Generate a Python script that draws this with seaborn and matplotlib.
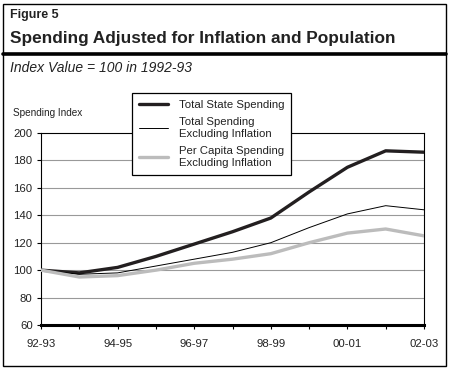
import matplotlib
matplotlib.use("Agg")
import matplotlib.pyplot as plt
import pandas as pd
import seaborn as sns
from matplotlib.patches import Rectangle
from matplotlib.lines import Line2D

years = ["92-93", "93-94", "94-95", "95-96", "96-97", "97-98",
         "98-99", "99-00", "00-01", "01-02", "02-03"]
total_state = [100, 98, 102, 110, 119, 128, 138, 157, 175, 187, 186]
total_excl_infl = [100, 97, 98, 103, 108, 113, 120, 131, 141, 147, 144]
per_capita_excl = [100, 95, 96, 100, 105, 108, 112, 120, 127, 130, 125]

names = ["Total State Spending",
         "Total Spending\nExcluding Inflation",
         "Per Capita Spending\nExcluding Inflation"]

df = pd.DataFrame({
    "pos": list(range(len(years))) * 3,
    "value": total_state + total_excl_infl + per_capita_excl,
    "series": [names[0]] * len(years) + [names[1]] * len(years) + [names[2]] * len(years),
})

sns.set_style("white")
plt.rcParams["font.family"] = ["Liberation Sans", "DejaVu Sans"]

W, H = 449, 370
fig = plt.figure(figsize=(W / 100, H / 100), dpi=100)

def fx(px):
    return px / W

def fy(py):
    return 1 - py / H

ax = fig.add_axes([fx(41), fy(325), fx(424) - fx(41), fy(133) - fy(325)])

palette = {names[0]: "#231f20", names[1]: "#000000", names[2]: "#bcbcbc"}
sizes = {names[0]: 2.4, names[1]: 0.7, names[2]: 2.4}
sns.lineplot(data=df, x="pos", y="value", hue="series", size="series",
             palette=palette, sizes=sizes, hue_order=names, size_order=names,
             ax=ax, legend=False, zorder=3)

ax.set_xlim(0, len(years) - 1)
ax.set_ylim(60, 200)
ax.set_yticks(range(60, 201, 20))
ax.set_xticks(range(len(years)))
ax.set_xticklabels([y if i % 2 == 0 else "" for i, y in enumerate(years)])
ax.set_xlabel("")
ax.set_ylabel("")
for y in range(80, 200, 20):
    ax.axhline(y, color="#999999", lw=0.8, zorder=1)
for s in ["left", "right", "top"]:
    ax.spines[s].set_color("black")
    ax.spines[s].set_linewidth(0.8)
ax.spines["bottom"].set_color("black")
ax.spines["bottom"].set_linewidth(2.2)
ax.tick_params(axis="both", which="both", direction="out", length=3, width=0.8,
               color="black", labelsize=8.2, labelcolor="#222222")
ax.tick_params(axis="x", pad=7)
ax.tick_params(axis="y", pad=3)
ax.tick_params(bottom=True, left=True)

handles = [Line2D([], [], color=palette[n], lw=sizes[n]) for n in names]
leg = fig.legend(handles, names, loc="upper left",
                 bbox_to_anchor=(fx(132), fy(93)), frameon=True, fancybox=False,
                 framealpha=1, edgecolor="black", fontsize=8.2, handlelength=2.6,
                 handletextpad=0.9, borderpad=0.6, labelspacing=0.6,
                 borderaxespad=0)
leg.get_frame().set_linewidth(0.9)
for t in leg.get_texts():
    t.set_color("#222222")
    t.set_linespacing(1.3)

fig.text(fx(10), fy(18), "Figure 5", fontsize=9, fontweight="bold",
         va="baseline", color="#222222")
fig.text(fx(10), fy(43), "Spending Adjusted for Inflation and Population",
         fontsize=12.4, fontweight="bold", va="baseline", color="#222222")
fig.text(fx(10), fy(72), "Index Value = 100 in 1992-93", fontsize=10,
         style="italic", va="baseline", color="#222222")
fig.text(fx(13), fy(116), "Spending Index", fontsize=7.2, va="baseline",
         color="#222222")

fig.add_artist(Rectangle((fx(3), fy(366)), fx(446) - fx(3), fy(4) - fy(366),
                         transform=fig.transFigure, fill=False,
                         edgecolor="black", lw=1.0))
fig.add_artist(Line2D([fx(3), fx(446)], [fy(53.5), fy(53.5)],
                      transform=fig.transFigure, color="black", lw=2.6))

fig.savefig("out.png", dpi=100)
